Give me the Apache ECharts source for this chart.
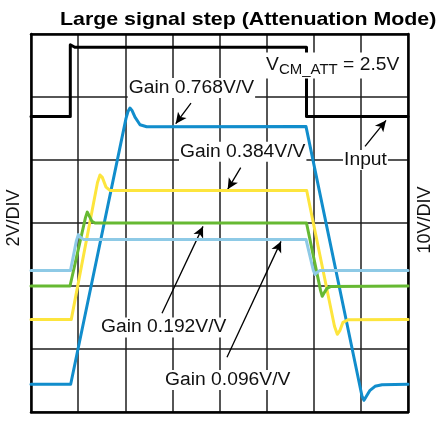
<!DOCTYPE html>
<html>
<head>
<meta charset="utf-8">
<script src="https://cdn.jsdelivr.net/npm/echarts@6/dist/echarts.min.js"></script>
<style>
html,body{margin:0;padding:0;background:#fff;}
#chart{width:438px;height:421px;}
</style>
</head>
<body>
<div id="chart"></div>
<script>
// Time in divisions (8 div), amplitude in divisions (6 div)
var inputTrace = [[0,4.69],[0.834,4.69],[0.834,5.83],[0.93,5.79],[5.846,5.79],[5.846,4.69],[8,4.69]];
var gain0768 = [[0,0.44],[0.842,0.44],[2.016,4.66],[2.058,4.77],[2.10,4.826],[2.143,4.787],[2.207,4.68],[2.313,4.56],[2.455,4.528],[5.836,4.53],[7.024,0.25],[7.066,0.186],[7.13,0.265],[7.194,0.344],[7.30,0.408],[7.448,0.432],[8,0.44]];
var gain0384 = [[0,1.47],[0.855,1.47],[1.411,3.644],[1.464,3.763],[1.513,3.724],[1.592,3.57],[1.676,3.517],[5.85,3.517],[6.44,1.36],[6.50,1.233],[6.557,1.296],[6.62,1.423],[6.727,1.463],[8,1.47]];
var gain0192 = [[0,2.0],[0.828,2.0],[1.157,3.089],[1.195,3.173],[1.241,3.105],[1.294,3.026],[1.358,3.0],[5.846,3.0],[6.144,1.93],[6.18,1.836],[6.227,1.899],[6.28,1.962],[6.366,1.993],[8,2.0]];
var gain0096 = [[0,2.248],[0.838,2.248],[0.965,2.724],[1.004,2.815],[1.04,2.78],[1.11,2.74],[5.836,2.74],[5.99,2.25],[6.027,2.184],[6.07,2.216],[6.13,2.248],[8,2.248]];
var gainLabels = ['Gain 0.768V/V','Gain 0.384V/V','Gain 0.192V/V','Gain 0.096V/V'];

var FONT = '"Liberation Sans", Arial, Helvetica, sans-serif';
var chart = echarts.init(document.getElementById('chart'), null, {renderer:'canvas'});

function lineSeries(name, data, color, z){
  return {
    name: name, type:'line', data: data, showSymbol:false, symbol:'none',
    xAxisIndex:0, yAxisIndex:0, z: z, silent:true, animation:false,
    lineStyle:{color:color, width:3, cap:'round', join:'round'}
  };
}

var arrows = [
  [[3.395,4.902],[3.071,4.576]],
  [[4.450,3.878],[4.174,3.534]],
  [[7.088,4.215],[7.533,4.628]],
  [[2.780,1.566],[3.650,2.946]],
  [[4.159,0.868],[5.305,2.708]]
];

function label(text, x, y){
  return {type:'text', x:x, y:y, scaleX:1.07, z:100, silent:true,
    style:{text:text, font:'18px '+FONT, fill:'#111', textAlign:'left', textVerticalAlign:'middle',
      backgroundColor:'#fff', padding:[1,1]}};
}

var axisCommon = {type:'value', min:0, interval:1, axisTick:{show:false}, axisLabel:{show:false},
  axisLine:{show:true, onZero:false, lineStyle:{color:'#000', width:2.5}}};

var option = {
  animation:false,
  backgroundColor:'#fff',
  grid:{left:31, right:30, top:34, bottom:9, containLabel:false},
  xAxis:[
    Object.assign({}, axisCommon, {max:8, position:'bottom', splitLine:{show:true, lineStyle:{color:'#1e1e1e', width:1.5}}}),
    Object.assign({}, axisCommon, {max:8, position:'top', splitLine:{show:false}})
  ],
  yAxis:[
    Object.assign({}, axisCommon, {max:6, position:'left', splitLine:{show:true, lineStyle:{color:'#1e1e1e', width:1.5}}}),
    Object.assign({}, axisCommon, {max:6, position:'right', splitLine:{show:false}})
  ],
  series:[
    lineSeries('Input', inputTrace, '#000000', 3),
    lineSeries(gainLabels[0], gain0768, '#118dcc', 4),
    lineSeries(gainLabels[1], gain0384, '#fde53d', 5),
    lineSeries(gainLabels[2], gain0192, '#66b932', 6),
    lineSeries(gainLabels[3], gain0096, '#8ecae6', 7),
    {
      type:'line', data:[], xAxisIndex:0, yAxisIndex:0, silent:true, animation:false, z:8,
      markLine:{
        silent:true, animation:false, symbol:['none','arrow'], symbolSize:[8,11],
        label:{show:false}, emphasis:{disabled:true},
        lineStyle:{color:'#000', width:1.3, type:'solid'},
        data: arrows.map(function(a){ return [{coord:a[0]},{coord:a[1]}]; })
      }
    }
  ],
  graphic:[
    {type:'text', x:60, y:19.6, scaleX:1.155, z:100, silent:true,
      style:{text:'Large signal step (Attenuation Mode)', font:'bold 18.5px '+FONT, fill:'#000',
        textAlign:'left', textVerticalAlign:'middle'}},
    label(gainLabels[0], 127.7, 88),
    label(gainLabels[1], 179, 151.7),
    label(gainLabels[2], 100, 327.5),
    label(gainLabels[3], 164, 380),
    label('Input', 343, 160),
    {type:'text', x:265, y:65.5, scaleX:1.07, z:100, silent:true,
      style:{text:'{v|V}{s|CM_ATT}{v| = 2.5V}', fill:'#111', textAlign:'left', textVerticalAlign:'middle',
        backgroundColor:'#fff', padding:[1,1],
        rich:{
          v:{fontSize:18, fontFamily:FONT, lineHeight:24, fill:'#111'},
          s:{fontSize:14, fontFamily:FONT, lineHeight:14, verticalAlign:'bottom', fill:'#111'}
        }}},
    {type:'text', x:14, y:218, rotation:Math.PI/2, z:100, silent:true,
      style:{text:'2V/DIV', font:'18px '+FONT, fill:'#111', textAlign:'center', textVerticalAlign:'middle'}},
    {type:'text', x:425, y:220, rotation:Math.PI/2, z:100, silent:true,
      style:{text:'10V/DIV', font:'18px '+FONT, fill:'#111', textAlign:'center', textVerticalAlign:'middle'}}
  ]
};
chart.setOption(option);
</script>
</body>
</html>
